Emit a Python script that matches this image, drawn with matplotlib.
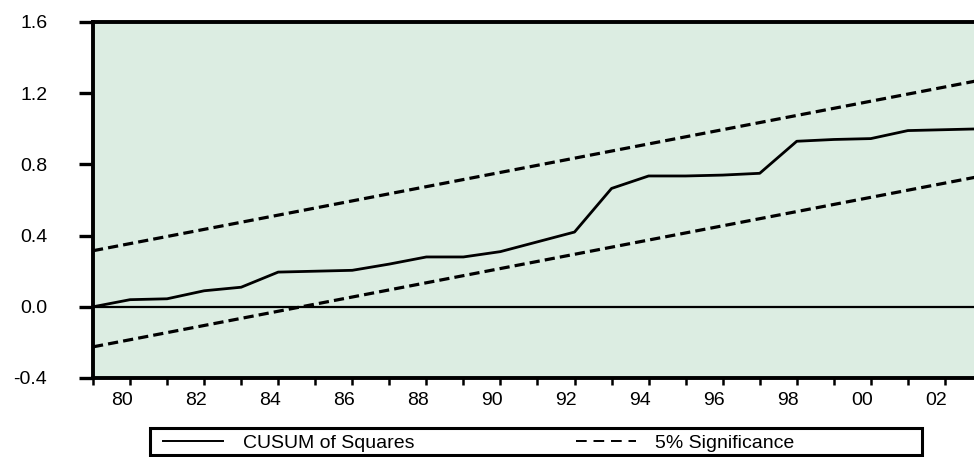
import matplotlib
matplotlib.use("Agg")
import matplotlib.pyplot as plt
from matplotlib.lines import Line2D
from matplotlib.patches import Rectangle

plt.rcParams["font.family"] = ["Liberation Sans", "DejaVu Sans"]

# data
years = list(range(1979, 2004))
cusum_sq = [0.00, 0.04, 0.045, 0.09, 0.11, 0.195, 0.20, 0.205, 0.24, 0.28,
            0.28, 0.31, 0.365, 0.42, 0.665, 0.735, 0.735, 0.74, 0.75, 0.93,
            0.94, 0.945, 0.99, 0.995, 1.00]
bound_years = [1979, 2003]
upper_5pct = [0.315, 1.275]
lower_5pct = [-0.225, 0.735]

y_ticks = [-0.4, 0.0, 0.4, 0.8, 1.2, 1.6]
y_labels = ["-0.4", "0.0", "0.4", "0.8", "1.2", "1.6"]
x_label_years = list(range(1980, 2003, 2))
x_labels = [f"{y % 100:02d}" for y in x_label_years]

W, H = 974, 457
fig = plt.figure(figsize=(W / 100, H / 100), dpi=100)
fig.patch.set_facecolor("white")
ax = fig.add_axes([93 / W, 1 - 378 / H, (W - 93) / W, (378 - 22) / H])
ax.set_facecolor("#dcede2")

ax.plot(years, cusum_sq, color="black", lw=2.0)
for b in (upper_5pct, lower_5pct):
    ax.plot(bound_years, b, color="black", lw=2.3, dashes=(3.2, 1.6))
ax.axhline(0, color="black", lw=1.6)

ax.set_xlim(1979, 1979 + (W - 93) / 37.04)
ax.set_ylim(-0.4, 1.6)

for side in ("left", "top", "bottom"):
    ax.spines[side].set_linewidth(2.8)
ax.spines["right"].set_visible(False)

ax.set_yticks(y_ticks)
ax.set_yticklabels(y_labels)
ax.tick_params(axis="y", direction="out", length=10, width=2.4, pad=23,
               labelsize=14)

# tick marks every year, labels slightly left of even-year ticks
ax.set_xticks(years[:-1], minor=True)
ax.set_xticks([y - 0.23 for y in x_label_years])
ax.set_xticklabels(x_labels)
ax.tick_params(axis="x", which="minor", direction="out", length=5, width=1.8)
ax.tick_params(axis="x", which="major", length=0, pad=10, labelsize=14)

# legend box
fig.add_artist(Rectangle((150 / W, 2 / H), 772 / W, 27 / H,
                         transform=fig.transFigure, fill=False,
                         lw=2.2, edgecolor="black"))
handles = [Line2D([], [], color="black", lw=1.4),
           Line2D([], [], color="black", lw=1.4, dashes=(5.5, 3.5))]
fig.legend(handles, ["CUSUM of Squares", "5% Significance"], ncol=2,
           loc="center left", bbox_to_anchor=(163 / W, 1 - 443 / H),
           frameon=False, fontsize=14, borderpad=0, borderaxespad=0,
           handlelength=3.1, handletextpad=1.0, columnspacing=8.3)

fig.savefig("out.png", dpi=100)
